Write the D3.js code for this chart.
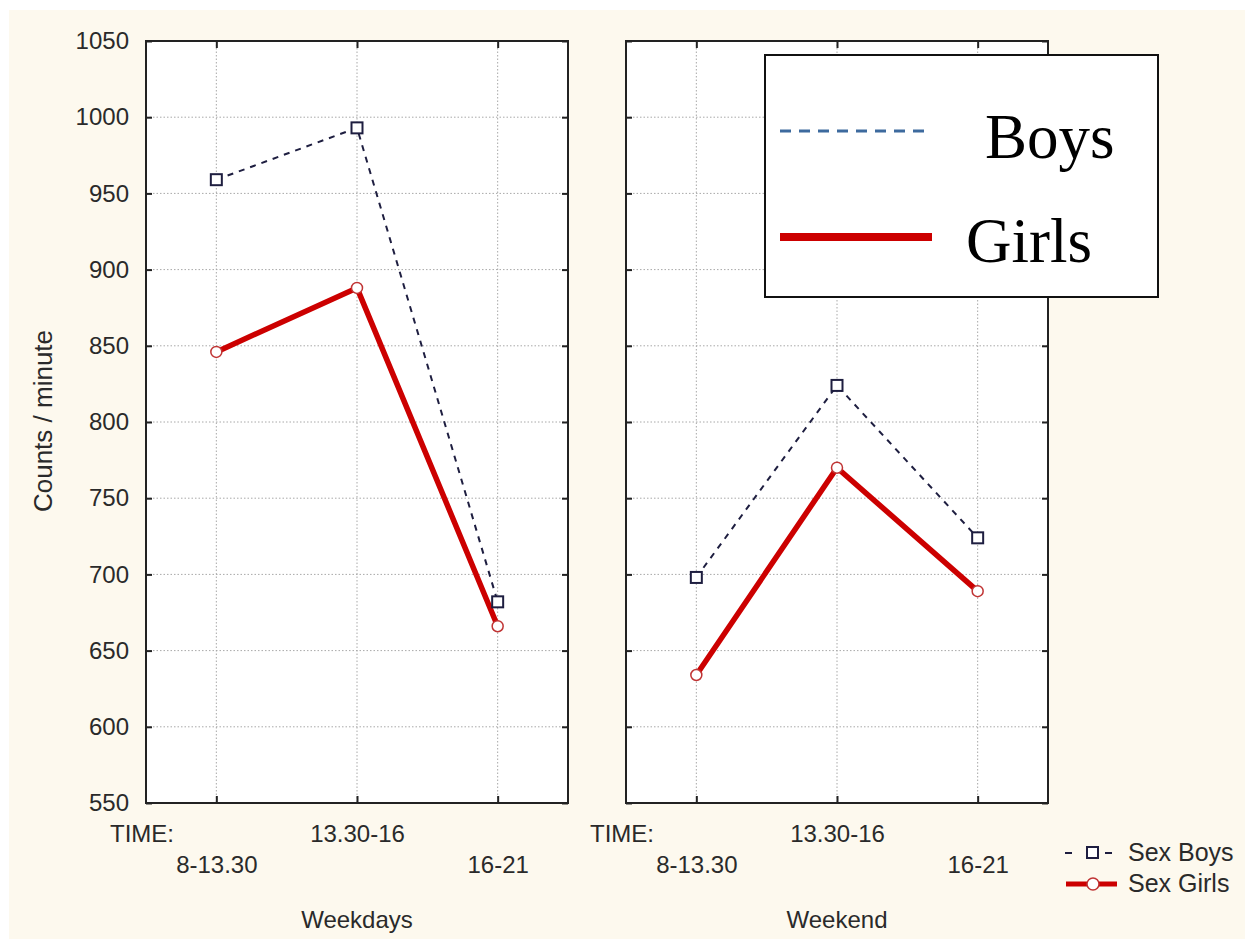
<!DOCTYPE html>
<html>
<head>
<meta charset="utf-8">
<script src="https://cdn.jsdelivr.net/npm/d3@7/dist/d3.min.js"></script>
<style>
  html, body { margin: 0; padding: 0; background: #ffffff; }
  svg { display: block; }
  text { font-family: "Liberation Sans", Arial, sans-serif; fill: #2a2a2a; }
</style>
</head>
<body>
<svg id="chart" width="1245" height="940"></svg>
<script>
// Activity counts by time of day, split by day type and sex
const timeSlots = ["8-13.30", "13.30-16", "16-21"];
const panels = ["Weekdays", "Weekend"];
const boysWeekdays = [959, 993, 682];
const girlsWeekdays = [846, 888, 666];
const boysWeekend = [698, 824, 724];
const girlsWeekend = [634, 770, 689];
const yTicks = [550, 600, 650, 700, 750, 800, 850, 900, 950, 1000, 1050];
const seriesNames = ["Boys", "Girls"];

const svg = d3.select("#chart");

// page background
svg.append("rect").attr("x", 9).attr("y", 10).attr("width", 1236).attr("height", 929)
  .attr("fill", "#fdf9ee");

const plotTop = 41, plotBottom = 803;
const y = d3.scaleLinear().domain([550, 1050]).range([plotBottom, plotTop]);

const panelDefs = [
  { name: panels[0], x0: 146, x1: 568, boys: boysWeekdays, girls: girlsWeekdays, yLabels: true },
  { name: panels[1], x0: 626, x1: 1048, boys: boysWeekend, girls: girlsWeekend, yLabels: false }
];

const boysColor = "#1e1e40";
const girlsColor = "#cc0000";

panelDefs.forEach(p => {
  const x = d3.scalePoint().domain(timeSlots).range([p.x0, p.x1]).padding(0.5);
  const g = svg.append("g");

  g.append("rect").attr("x", p.x0).attr("y", plotTop).attr("width", p.x1 - p.x0).attr("height", plotBottom - plotTop)
    .attr("fill", "#ffffff");

  // dotted grid
  g.append("g").selectAll("line").data(yTicks.slice(1, -1)).join("line")
    .attr("x1", p.x0).attr("x2", p.x1).attr("y1", d => y(d)).attr("y2", d => y(d))
    .attr("stroke", "#a8a8a8").attr("stroke-width", 1).attr("stroke-dasharray", "1.5,2");
  g.append("g").selectAll("line").data(timeSlots).join("line")
    .attr("x1", d => x(d)).attr("x2", d => x(d)).attr("y1", plotTop).attr("y2", plotBottom)
    .attr("stroke", "#a8a8a8").attr("stroke-width", 1).attr("stroke-dasharray", "1.5,2");

  // inward ticks on all four sides
  const tickStyle = sel => {
    sel.select(".domain").remove();
    sel.selectAll(".tick line").attr("stroke", "#222").attr("stroke-width", 2);
    sel.selectAll(".tick text").remove();
  };
  g.append("g").attr("transform", `translate(${p.x0},0)`)
    .call(d3.axisRight(y).tickValues(yTicks).tickSize(6)).call(tickStyle);
  g.append("g").attr("transform", `translate(${p.x1},0)`)
    .call(d3.axisLeft(y).tickValues(yTicks).tickSize(6)).call(tickStyle);
  g.append("g").attr("transform", `translate(0,${plotBottom})`)
    .call(d3.axisTop(x).tickSize(7)).call(tickStyle);
  g.append("g").attr("transform", `translate(0,${plotTop})`)
    .call(d3.axisBottom(x).tickSize(7)).call(tickStyle);

  // y tick labels
  if (p.yLabels) {
    const ya = g.append("g").attr("transform", `translate(${p.x0},0)`)
      .call(d3.axisLeft(y).tickValues(yTicks).tickFormat(d3.format("d")).tickSize(0).tickPadding(17));
    ya.select(".domain").remove();
    ya.selectAll(".tick text").attr("font-size", 24).attr("fill", "#2a2a2a")
      .attr("font-family", "Liberation Sans, Arial, sans-serif");
  }

  // x tick labels, staggered over two rows
  const xa = g.append("g").attr("transform", `translate(0,${plotBottom})`)
    .call(d3.axisBottom(x).tickSize(0).tickPadding(0));
  xa.select(".domain").remove();
  xa.selectAll(".tick text")
    .attr("font-size", 24).attr("fill", "#2a2a2a")
    .attr("font-family", "Liberation Sans, Arial, sans-serif")
    .attr("dy", null)
    .attr("y", (d, i) => i % 2 === 0 ? 70 : 39);

  g.append("text").attr("x", p.x0 - 36).attr("y", 842).attr("font-size", 24).text("TIME:");
  g.append("text").attr("x", x(timeSlots[1])).attr("y", 928).attr("text-anchor", "middle")
    .attr("font-size", 24).text(p.name);

  // series lines
  const line = vals => d3.line().x((d, i) => x(timeSlots[i])).y(d => y(d))(vals);
  g.append("path").attr("d", line(p.boys)).attr("fill", "none")
    .attr("stroke", boysColor).attr("stroke-width", 2).attr("stroke-dasharray", "6,6");
  g.append("path").attr("d", line(p.girls)).attr("fill", "none")
    .attr("stroke", girlsColor).attr("stroke-width", 5.5).attr("stroke-linejoin", "round");

  g.append("g").selectAll("rect").data(p.boys).join("rect")
    .attr("x", (d, i) => x(timeSlots[i]) - 5.5).attr("y", d => y(d) - 5.5)
    .attr("width", 11).attr("height", 11)
    .attr("fill", "#ffffff").attr("stroke", boysColor).attr("stroke-width", 2);
  g.append("g").selectAll("circle").data(p.girls).join("circle")
    .attr("cx", (d, i) => x(timeSlots[i])).attr("cy", d => y(d)).attr("r", 5.5)
    .attr("fill", "#ffffff").attr("stroke", "#c03434").attr("stroke-width", 1.5);

  // frame
  g.append("rect").attr("x", p.x0).attr("y", plotTop).attr("width", p.x1 - p.x0).attr("height", plotBottom - plotTop)
    .attr("fill", "none").attr("stroke", "#222").attr("stroke-width", 2);
});

// y axis title
svg.append("text").attr("transform", "translate(52,421) rotate(-90)")
  .attr("text-anchor", "middle").attr("font-size", 26).text("Counts / minute");

// small legend, bottom right
const sl = svg.append("g");
sl.append("line").attr("x1", 1065).attr("x2", 1072).attr("y1", 853).attr("y2", 853)
  .attr("stroke", boysColor).attr("stroke-width", 2);
sl.append("line").attr("x1", 1105).attr("x2", 1112).attr("y1", 853).attr("y2", 853)
  .attr("stroke", boysColor).attr("stroke-width", 2);
sl.append("rect").attr("x", 1087).attr("y", 847).attr("width", 11).attr("height", 11)
  .attr("fill", "#fff").attr("stroke", boysColor).attr("stroke-width", 2);
sl.append("line").attr("x1", 1066).attr("x2", 1117).attr("y1", 884).attr("y2", 884)
  .attr("stroke", girlsColor).attr("stroke-width", 5);
sl.append("circle").attr("cx", 1093).attr("cy", 884).attr("r", 6)
  .attr("fill", "#fff").attr("stroke", "#c03434").attr("stroke-width", 1.5);
sl.append("text").attr("x", 1128).attr("y", 861).attr("font-size", 25).text("Sex " + seriesNames[0]);
sl.append("text").attr("x", 1128).attr("y", 892).attr("font-size", 25).text("Sex " + seriesNames[1]);

// large legend box
const bl = svg.append("g");
bl.append("rect").attr("x", 765).attr("y", 55).attr("width", 393).attr("height", 242)
  .attr("fill", "#ffffff").attr("stroke", "#111").attr("stroke-width", 2);
bl.append("line").attr("x1", 780).attr("x2", 932).attr("y1", 131).attr("y2", 131)
  .attr("stroke", "#3d6a9e").attr("stroke-width", 3).attr("stroke-dasharray", "11,8");
bl.append("line").attr("x1", 780).attr("x2", 932).attr("y1", 237).attr("y2", 237)
  .attr("stroke", girlsColor).attr("stroke-width", 8);
bl.append("text").attr("x", 985).attr("y", 158).attr("font-size", 63)
  .style("font-family", "'Liberation Serif', 'Times New Roman', serif").style("fill", "#000")
  .text(seriesNames[0]);
bl.append("text").attr("x", 966).attr("y", 262).attr("font-size", 63)
  .style("font-family", "'Liberation Serif', 'Times New Roman', serif").style("fill", "#000")
  .text(seriesNames[1]);
</script>
</body>
</html>
